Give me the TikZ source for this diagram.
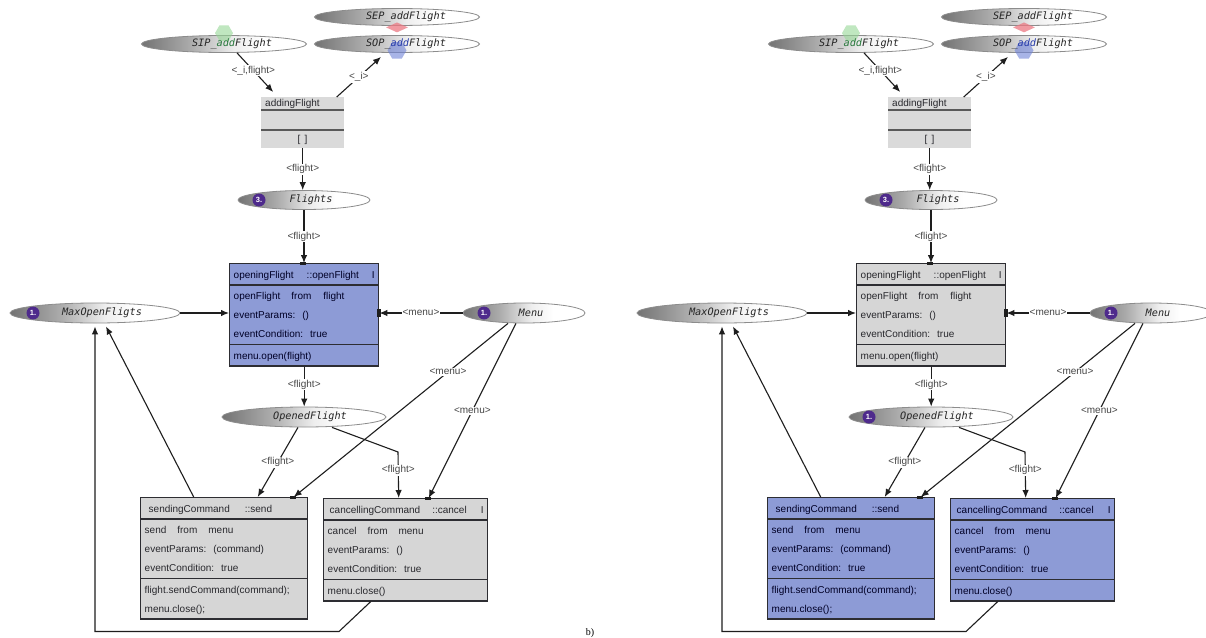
\documentclass[tikz,border=0pt]{standalone}
\usepackage{fontspec}
\setmainfont{Liberation Sans}
\setsansfont{Liberation Sans}
\newfontfamily\placefont{DejaVu Sans Mono}
\newfontfamily\seriffam{Liberation Serif}
\usetikzlibrary{shapes.geometric,shapes.multipart,arrows.meta}

\definecolor{boxblue}{RGB}{141,155,214}
\definecolor{boxgray}{RGB}{214,214,214}
\definecolor{addgray}{RGB}{218,218,218}
\definecolor{bordc}{RGB}{45,45,50}
\definecolor{linec}{RGB}{30,30,30}
\definecolor{lblc}{RGB}{70,70,70}
\definecolor{badgec}{RGB}{78,42,140}
\definecolor{pdark}{RGB}{115,115,115}
\definecolor{pmid}{RGB}{172,172,172}
\definecolor{plight}{RGB}{238,238,238}
\definecolor{poutline}{RGB}{140,140,140}
\definecolor{sipgreen}{RGB}{150,215,150}
\definecolor{sepred}{RGB}{235,120,130}
\definecolor{sopblue}{RGB}{110,130,215}
\definecolor{greentxt}{RGB}{40,120,60}
\definecolor{bluetxt}{RGB}{40,60,170}
\definecolor{txtdark}{RGB}{40,40,45}

\pgfdeclarehorizontalshading{placeshade}{100bp}{color(0bp)=(pdark); color(25bp)=(pdark); color(40bp)=(pmid); color(53bp)=(plight); color(62bp)=(white); color(100bp)=(white)}

\tikzset{
  placenode/.style={ellipse, shading=placeshade, draw=poutline, line width=0.8pt, inner sep=0pt},
  ptext/.style={font=\placefont\itshape\fontsize{10.2}{12}\selectfont, text=black!85, inner sep=0pt},
  badge/.style={circle, fill=badgec, text=white, font=\bfseries\fontsize{7.5}{8}\selectfont, minimum size=13pt, inner sep=0pt},
  conn/.style={draw=linec, line width=1.1pt},
  arr/.style={conn, -{Latex[length=8pt,width=6.5pt]}},
  lbl/.style={font=\fontsize{10}{11}\selectfont, text=lblc, fill=white, inner sep=1pt},
  transbox/.style={rectangle split, rectangle split parts=3, draw=bordc, line width=1.4pt, inner xsep=4pt, inner ysep=0.5pt, align=left, anchor=north west, font=\fontsize{10}{19}\selectfont, text=txtdark},
  bluebox/.style={transbox, fill=boxblue, text=black!85!blue},
  graybox/.style={transbox, fill=boxgray},
  portmark/.style={fill=linec},
  txt/.style={font=\fontsize{10}{12}\selectfont, text=txtdark, inner sep=0pt},
}

\newcommand\drawnet[6]{%
  % places
  \node[placenode, minimum width=165pt, minimum height=17pt] (#1sep) at (#2+397,17) {};
  \node[placenode, minimum width=165pt, minimum height=17pt] (#1sip) at (#2+224,44) {};
  \node[placenode, minimum width=165pt, minimum height=17pt] (#1sop) at (#2+397,44) {};
  \node[placenode, minimum width=132pt, minimum height=19pt] (#1flights) at (#2+304,200) {};
  \node[placenode, minimum width=170pt, minimum height=20pt] (#1maxo) at (#2+95,313) {};
  \node[placenode, minimum width=122pt, minimum height=20pt] (#1menu) at (#2+524,313) {};
  \node[placenode, minimum width=164pt, minimum height=20pt] (#1opened) at (#2+304,417) {};
  % interface marks
  \node[regular polygon, regular polygon sides=6, minimum size=18pt, inner sep=0pt, fill=sipgreen, fill opacity=.6] (#1sipm) at ([yshift=2pt]#1sip.north) {};
  \node[diamond, minimum width=22pt, minimum height=10pt, inner sep=0pt, fill=sepred, fill opacity=.75] (#1sepm) at ([yshift=-1.5pt]#1sep.south) {};
  \node[regular polygon, regular polygon sides=6, minimum size=19pt, inner sep=0pt, fill=sopblue, fill opacity=.6] (#1sopm) at ([yshift=2.5pt]#1sop.south) {};
  % place texts
  \node[ptext] (#1sept) at ([xshift=9pt]#1sep.center) {SEP\_addFlight};
  \node[ptext] (#1sipt) at ([xshift=8pt]#1sip.center) {SIP\_{\color{greentxt}add}Flight};
  \node[ptext] (#1sopt) at ([xshift=9pt]#1sop.center) {SOP\_{\color{bluetxt}add}Flight};
  \node[ptext] (#1flightst) at ([xshift=7pt]#1flights.center) {Flights};
  \node[ptext] (#1maxot) at ([xshift=7pt]#1maxo.center) {MaxOpenFligts};
  \node[ptext] (#1menut) at ([xshift=7pt]#1menu.center) {Menu};
  \node[ptext] (#1openedt) at ([xshift=6pt]#1opened.center) {OpenedFlight};
  % badges
  \node[badge] (#1flightsb) at (#2+259,200) {3.};
  \node[badge] (#1menub) at (#2+484,313) {1.};
  \ifnum#5=1 \node[badge] (#1maxob) at (#2+33,313) {1.};\fi
  \ifnum#6=1 \node[badge] (#1openedb) at (#2+242,417) {1.};\fi
  % addingFlight
  \node[fill=addgray, minimum width=83pt, minimum height=51pt, inner sep=0pt, anchor=north west] (#1add) at (#2+261,97) {};
  \draw[line width=1.3pt, draw=black!65] ([yshift=-13pt]#1add.north west) -- ([yshift=-13pt]#1add.north east);
  \draw[line width=1.3pt, draw=black!65] ([yshift=-33pt]#1add.north west) -- ([yshift=-33pt]#1add.north east);
  \node[txt, anchor=west] (#1addt) at (#2+265,104) {addingFlight};
  \node[txt] (#1addg) at (#2+302.5,139.5) {[\hspace{4pt}]};
  % transitions
  \node[#3, text width=141pt] (#1openF) at (#2+229,263) {\strut openingFlight\hspace{13pt}::openFlight\hfill I\nodepart{two}\strut openFlight\hspace{11pt}from\hspace{12pt}flight\\\strut eventParams:\hspace{7pt}()\\\strut eventCondition:\hspace{7pt}true\nodepart{three}\strut menu.open(flight)};
  \node[#4, text width=159pt] (#1send) at (#2+140,497) {\strut\hspace{4pt}sendingCommand\hspace{15pt}::send\nodepart{two}\strut send\hspace{11pt}from\hspace{11pt}menu\\\strut eventParams:\hspace{7pt}(command)\\\strut eventCondition:\hspace{7pt}true\nodepart{three}\strut flight.sendCommand(command);\\\strut menu.close();};
  \node[#4, text width=156pt] (#1cancel) at (#2+323,498) {\strut\hspace{2pt}cancellingCommand\hspace{12pt}::cancel\hfill I\nodepart{two}\strut cancel\hspace{11pt}from\hspace{11pt}menu\\\strut eventParams:\hspace{7pt}()\\\strut eventCondition:\hspace{7pt}true\nodepart{three}\strut menu.close()};
  % connectors
  \draw[arr] ([xshift=13pt]#1sip.south) -- node[lbl, pos=.45] {<\_i,flight>} ([xshift=-29.5pt,yshift=5pt]#1add.north);
  \draw[arr] ([xshift=34pt]#1add.north) -- node[lbl] {<\_i>} ([xshift=-16pt,yshift=-4pt]#1sop.south);
  \draw[arr] (#1add.south) -- node[lbl] {<flight>} (#1add.south |- #1flights.north);
  \draw[arr] (#1flights.south) -- node[lbl] {<flight>} (#1flights.south |- #1openF.north);
  \draw[arr] (#1openF.south) -- node[lbl, pos=.45] {<flight>} (#1openF.south |- #1opened.north);
  \draw[arr] (#1maxo.east) -- (#1maxo.east -| #1openF.west);
  \draw[arr] (#1menu.west) -- node[lbl] {<menu>} (#1menu.west -| #1openF.east);
  \draw[arr] ([xshift=-16pt]#1menu.south) -- node[lbl, pos=.28] {<menu>} ([xshift=69.5pt]#1send.north);
  \draw[arr] ([xshift=-8pt]#1menu.south) -- node[lbl] {<menu>} ([xshift=23pt]#1cancel.north);
  \draw[arr] ([xshift=-6pt]#1opened.south) -- node[lbl] {<flight>} ([xshift=33.5pt]#1send.north);
  \coordinate (#1bend) at (#2+398,452);
  \draw[arr] ([xshift=28pt]#1opened.south) -- (#1bend) -- node[lbl, pos=.4] {<flight>} ([xshift=-7pt]#1cancel.north);
  \draw[arr] ([xshift=-30.5pt]#1send.north) -- ([xshift=11pt,yshift=-3pt]#1maxo.south);
  \coordinate (#1low) at (#2+339,631.5);
  \draw[arr] ([xshift=-35pt]#1cancel.south) -- (#1low) -| ([yshift=-3pt]#1maxo.south);
  % ports
  \fill[portmark] (#2+300,261.5) rectangle (#2+306,265);
  \fill[portmark] (#2+377,309) rectangle (#2+381,317);
  \fill[portmark] (#2+290,495.5) rectangle (#2+296,499);
  \fill[portmark] (#2+425,496.5) rectangle (#2+431,500);
}

\begin{document}
\begin{tikzpicture}[x=1pt,y=-1pt]
\useasboundingbox (0,0) rectangle (1206,637);
\fill[white] (0,0) rectangle (1206,637);
\drawnet{L}{0}{bluebox}{graybox}{1}{0}
\drawnet{R}{627}{graybox}{bluebox}{0}{1}
\node[font=\seriffam\fontsize{10}{12}\selectfont, anchor=north, inner sep=0pt] (blabel) at (590,628) {b)};
\end{tikzpicture}
\end{document}
